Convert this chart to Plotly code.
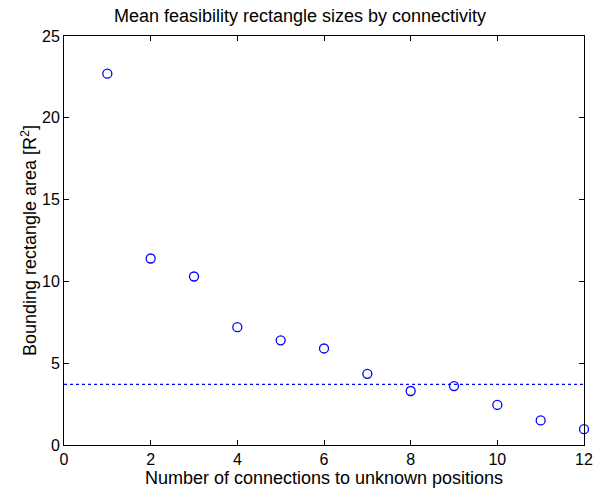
import plotly.graph_objects as go

# 連接數與平均矩形面積
connections = [1, 2, 3, 4, 5, 6, 7, 8, 9, 10, 11, 12]
mean_area = [22.7, 11.4, 10.3, 7.2, 6.4, 5.9, 4.35, 3.3, 3.6, 2.45, 1.5, 0.97]
ref_level = 3.7

x_ticks = [0, 2, 4, 6, 8, 10, 12]
y_ticks = [0, 5, 10, 15, 20, 25]

fig = go.Figure()
fig.add_trace(go.Scatter(x=connections, y=mean_area, mode="markers",
                         marker=dict(symbol="circle-open", size=9, color="#0000ff",
                                     line=dict(width=1.3, color="#0000ff")),
                         cliponaxis=False, showlegend=False))
fig.add_hline(y=ref_level, line=dict(color="#0000ff", width=1.3, dash="dot"))

axis_style = dict(showline=True, linecolor="black", linewidth=1, mirror="allticks",
                  ticks="inside", ticklen=5, tickcolor="black", showgrid=False,
                  zeroline=False, automargin=False,
                  tickfont=dict(size=16, color="black"))

fig.update_xaxes(range=[0, 12], tickvals=x_ticks,
                 title=dict(text="Number of connections to unknown positions",
                            font=dict(size=18, color="black"), standoff=0),
                 **axis_style)
fig.update_yaxes(range=[0, 25], tickvals=y_ticks,
                 title=dict(text="Bounding rectangle area [R<sup>2</sup>]",
                            font=dict(size=18, color="black"), standoff=0),
                 **axis_style)

fig.update_layout(width=600, height=495,
                  margin=dict(l=64, r=16, t=36, b=50),
                  paper_bgcolor="white", plot_bgcolor="white",
                  font=dict(family="Liberation Sans, Arial, sans-serif", color="black"),
                  title=dict(text="Mean feasibility rectangle sizes by connectivity",
                             x=0.5, xanchor="center", y=0.968, yanchor="middle",
                             font=dict(size=18, color="black")))

# 去掉 body 預設的 8px 邊界, 不顯示 modebar
fig.write_html("out.html", config={"displayModeBar": False},
               post_script="document.body.style.margin='0';")
